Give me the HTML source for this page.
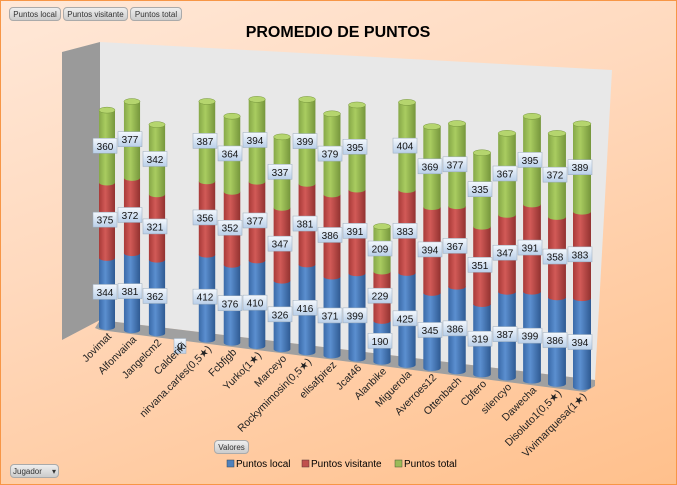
<!DOCTYPE html>
<html><head><meta charset="utf-8"><style>
body{margin:0;width:677px;height:485px;overflow:hidden;font-family:"Liberation Sans",sans-serif}
#root{position:relative;width:675px;height:483px;border:1px solid #f79646;background:linear-gradient(160deg,#ffe8d8 0%,#ffd9bd 40%,#ffc08c 100%)}
.btn{position:absolute;height:14px;font-size:8px;line-height:14px;padding:0 2px;border:1px solid #aaa;border-radius:4px;background:linear-gradient(#eee,#ccc);color:#333;box-sizing:border-box;text-align:center;white-space:nowrap;overflow:hidden}
</style></head><body>
<div id="root">
<div class="btn" style="left:8px;top:6px;width:52px">Puntos local</div>
<div class="btn" style="left:62px;top:6px;width:65px">Puntos visitante</div>
<div class="btn" style="left:129px;top:6px;width:52px">Puntos total</div>
<div class="btn" style="left:213px;top:439px;width:35px">Valores</div>
<div class="btn" style="left:9px;top:463px;width:49px;text-align:left">Jugador <span style="float:right">▾</span></div>
<svg id="svg" width="677" height="485" style="position:absolute;left:-1px;top:-1px">
<defs>
<linearGradient id="gb" x1="0" x2="1"><stop offset="0" stop-color="#3a6aa8"/><stop offset="0.4" stop-color="#5b8fd0"/><stop offset="1" stop-color="#2f5a92"/></linearGradient>
<linearGradient id="gr" x1="0" x2="1"><stop offset="0" stop-color="#a83a38"/><stop offset="0.4" stop-color="#d25a57"/><stop offset="1" stop-color="#923230"/></linearGradient>
<linearGradient id="gg" x1="0" x2="1"><stop offset="0" stop-color="#86a848"/><stop offset="0.4" stop-color="#a9cc60"/><stop offset="1" stop-color="#76963c"/></linearGradient>
<linearGradient id="lb" x1="0" y1="0" x2="0" y2="1"><stop offset="0" stop-color="#f4f8fd"/><stop offset="1" stop-color="#b9cfe9"/></linearGradient>
</defs>
<text x="338" y="37" text-anchor="middle" font-size="16" font-weight="bold">PROMEDIO DE PUNTOS</text>
<polygon points="62,52 100,42 100,320 62,340" fill="#9a9a9a"/>
<polygon points="100,42 612,70 595,380 100,320" fill="#e8e8e8"/>
<polygon points="100,320 595,380 595,386 585,392 100,330 95,328" fill="#a0a0a0"/>
<g id="bars"></g><g id="labels"></g>
<g font-size="10">
<rect x="227" y="460" width="7" height="7" fill="#4f81bd" stroke="#345" stroke-width="0.5"/>
<text x="236" y="467">Puntos local</text>
<rect x="302" y="460" width="7" height="7" fill="#c0504d" stroke="#533" stroke-width="0.5"/>
<text x="311" y="467">Puntos visitante</text>
<rect x="395" y="460" width="7" height="7" fill="#9bbb59" stroke="#453" stroke-width="0.5"/>
<text x="404" y="467">Puntos total</text>
</g>
</svg>
</div>
<script>
const categories=["Jovimat","Alfonvaina","Jangelcm2","Calderiki","nirvana.carles(0,5★)","Fcbfjgb","Yurko(1★)","Marceyo","Rockymimosin(0,5★)","elisafpirez","Jcat46","Alanbike","Miguerola","Averroes12","Ottenbach","Cbfero","silencyo","Dawecha","Disoluto1(0,5★)","Vivimarquesa(1★)"];
const local=[344,381,362,0,412,376,410,326,416,371,399,190,425,345,386,319,387,399,386,394];
const visitante=[375,372,321,0,356,352,377,347,381,386,391,229,383,394,367,351,347,391,358,383];
const total=[360,377,342,0,387,364,394,337,399,379,395,209,404,369,377,335,367,395,372,389];
const NS="http://www.w3.org/2000/svg";
const n=categories.length;
function xPos(i){return 107+i*(582-107)/(n-1);}
function yBase(i){return 327+i*(387-327)/(n-1);}
function scale(i){return 0.201+i*0.0013;}
function bw(i){return 16+i*2/(n-1);}
const bars=document.getElementById('bars'),labels=document.getElementById('labels');
function mk(tag,attrs,parent){const e=document.createElementNS(NS,tag);for(const k in attrs)e.setAttribute(k,attrs[k]);parent.appendChild(e);return e;}
const series=[[local,'url(#gb)','#2f5a92','local'],[visitante,'url(#gr)','#923230','visitante'],[total,'url(#gg)','#76963c','total']];
for(let i=0;i<n;i++){
  const cx=xPos(i),w=bw(i),s=scale(i);let y=yBase(i);
  const g=mk('g',{},bars);
  
  
  const labs=[];
  series.forEach(([arr,fill,dark,nm],k)=>{
    const h=arr[i]*s;const top=y-h;
    if(h>0){
      const seg=mk('path',{d:`M${cx-w/2},${top} L${cx-w/2},${y} A${w/2},3 0 0 0 ${cx+w/2},${y} L${cx+w/2},${top} Z`,fill:fill},g);
      
      
      if(k==2){const cap=mk('ellipse',{cx:cx,cy:top,rx:w/2,ry:3,fill:'#b5d56e',stroke:dark,'stroke-width':0.5},g);
      
      }
    }
    labs.push([arr[i],y-h/2]);
    y=top;
  });
  if(local[i]===0){labs.length=0;labs.push([0,yBase(i)+10]);}
  labs.forEach(([v,ly])=>{
    const lg=mk('g',{},labels);
    
    
    const tw=v===0?12:24;
    mk('rect',{x:cx-tw/2-2,y:ly-8,width:tw,height:15,fill:'url(#lb)',stroke:'#9ab',"stroke-width":0.5},lg);
    const t=mk('text',{x:cx-2,y:ly+3.5,'text-anchor':'middle','font-size':10,fill:'#111'},lg);t.textContent=v;
  });
  const ct=mk('text',{transform:`translate(${cx+5},${yBase(i)+10}) rotate(-45)`,'text-anchor':'end','font-size':10.5,fill:'#222'},labels);
  
  
  ct.textContent=categories[i];
}
</script>
</body></html>
